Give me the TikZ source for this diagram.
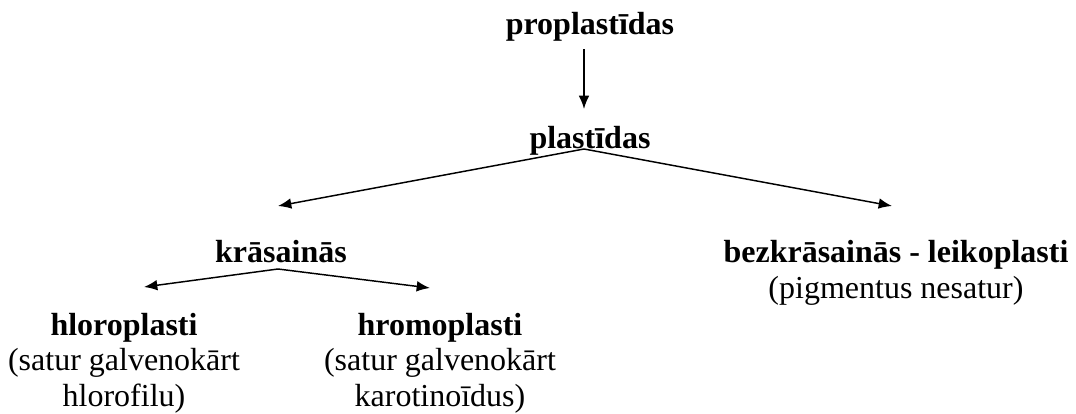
\documentclass[tikz,border=0pt]{standalone}
\usepackage{fontspec}
\setmainfont{Liberation Serif}
\usetikzlibrary{arrows.meta}
\begin{document}
\fontsize{24}{26.5}\selectfont
\begin{tikzpicture}[x=0.75pt,y=-0.75pt,
  lbl/.style={inner sep=0pt,align=center,font=\fontsize{24}{26.5}\selectfont},
  arr/.style={color=black,line width=1.1pt,-{Latex[length=10pt,width=8pt]}}]
\useasboundingbox (0,0) rectangle (1076,414);

\node[lbl,anchor=base] (prop) at (590,34) {\textbf{proplastīdas}};
\node[lbl,anchor=base] (plas) at (590,148) {\textbf{plastīdas}};
\node[lbl,anchor=base] (kras) at (281,262) {\textbf{krāsainās}};
\node[lbl,anchor=north] (bezk) at (896,240.4) {\textbf{bezkrāsainās - leikoplasti}\\(pigmentus nesatur)};
\node[lbl,anchor=north] (hlor) at (124,313) {\textbf{hloroplasti}\\(satur galvenokārt\\hlorofilu)};
\node[lbl,anchor=north] (hrom) at (440,313) {\textbf{hromoplasti}\\(satur galvenokārt\\karotinoīdus)};

  \coordinate (plasAp) at (584,149);
  \coordinate (krasAp) at (278,269);
  \coordinate (krasTip) at (278,206);
  \coordinate (bezkTip) at (892,206);
  \coordinate (hlorTip) at (144,287);
  \coordinate (hromTip) at (430,288);

  \draw[arr] (prop.south -| plasAp) ++(0,8) -- (584,109);
  \draw[arr] (plasAp) -- (krasTip);
  \draw[arr] (plasAp) -- (bezkTip);
  \draw[arr] (krasAp) -- (hlorTip);
  \draw[arr] (krasAp) -- (hromTip);
\end{tikzpicture}
\end{document}
